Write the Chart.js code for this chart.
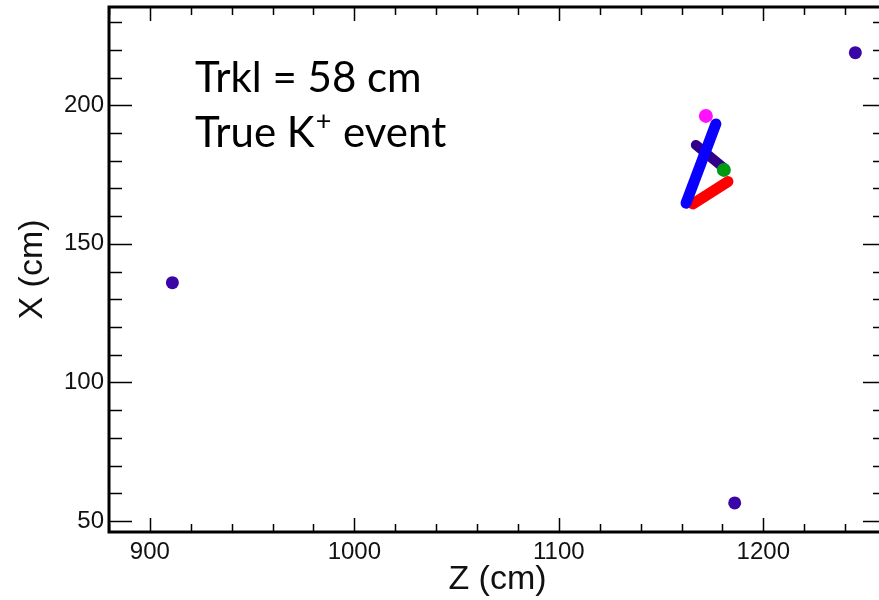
<!DOCTYPE html>
<html>
<head>
<meta charset="utf-8">
<script src="https://cdn.jsdelivr.net/npm/chart.js@4"></script>
<style>
  html, body { margin: 0; padding: 0; background: #fff; overflow: hidden; }
  #wrap { width: 900px; height: 600px; }
</style>
</head>
<body>
<div id="wrap"><canvas id="evt" width="900" height="600"></canvas></div>
<script>
// isolated hits (Z, X in cm)
const hitZ = [911, 1186, 1245];
const hitX = [136, 56.5, 219];

// reconstructed tracks, start and end point
const blueZ = [1162.2, 1176.8];
const blueX = [164.7, 193.3];
const redZ = [1165.6, 1182.7];
const redX = [164.4, 172.5];
const purpleZ = [1167.0, 1180.2];
const purpleX = [185.7, 177.7];

// vertex blobs
const greenZ = [1180.7];
const greenX = [176.7];
const pinkZ = [1171.9];
const pinkX = [196.2];

// axis ranges, tick spacing and labelled ticks
const zRange = [880, 1260];
const xRange = [46, 235.5];
const zStep = 20;
const xStep = 10;
const zLabels = [900, 1000, 1100, 1200];
const xLabels = [50, 100, 150, 200];

const noteLine1 = 'Trkl = 58 cm';
const noteLine2 = ['True K', '+', ' event'];

function pts(zs, xs) {
    return zs.map((z, i) => ({x: z, y: xs[i]}));
}

// every multiple of step inside [lo, hi]
function stepTicks(lo, hi, step) {
    const out = [];
    for (let v = Math.ceil(lo / step) * step; v <= hi; v += step) out.push({value: v});
    return out;
}

// ROOT style box: frame plus inward ticks on all four sides
const frameTicks = {
    id: 'frameTicks',
    afterDraw(chart) {
        const {ctx, chartArea: a, scales: {x, y}} = chart;
        ctx.save();
        ctx.strokeStyle = '#000';
        ctx.lineWidth = 1.5;
        ctx.beginPath();
        x.ticks.forEach(t => {
            const px = Math.round(x.getPixelForValue(t.value)) + 0.5;
            const len = t.value % 100 === 0 ? 14 : 8;
            ctx.moveTo(px, a.bottom); ctx.lineTo(px, a.bottom - len);
            ctx.moveTo(px, a.top); ctx.lineTo(px, a.top + len);
        });
        y.ticks.forEach(t => {
            const py = Math.round(y.getPixelForValue(t.value)) + 0.5;
            const len = t.value % 50 === 0 ? 23 : 13;
            ctx.moveTo(a.left, py); ctx.lineTo(a.left + len, py);
            ctx.moveTo(a.right, py); ctx.lineTo(a.right - len, py);
        });
        ctx.stroke();
        ctx.lineWidth = 3;
        ctx.strokeRect(a.left, a.top, a.right - a.left, a.bottom - a.top);

        // event note
        ctx.fillStyle = '#000';
        ctx.textBaseline = 'alphabetic';
        ctx.font = '42px Lato';
        ctx.fillText(noteLine1, a.left + 86, 92);
        let cx = a.left + 86;
        ctx.fillText(noteLine2[0], cx, 147);
        cx += ctx.measureText(noteLine2[0]).width;
        ctx.font = '27px Lato';
        ctx.fillText(noteLine2[1], cx + 1, 130);
        cx += ctx.measureText(noteLine2[1]).width + 2;
        ctx.font = '42px Lato';
        ctx.fillText(noteLine2[2], cx, 147);
        ctx.restore();
    }
};

const hitColor = '#3b06a6';

new Chart(document.getElementById('evt').getContext('2d'), {
    type: 'scatter',
    data: {
        datasets: [
            {
                label: 'blue track',
                data: pts(blueZ, blueX),
                showLine: true,
                borderColor: '#0a00ff',
                borderWidth: 11,
                borderCapStyle: 'round',
                pointRadius: 0
            },
            {
                label: 'green vertex',
                data: pts(greenZ, greenX),
                backgroundColor: '#009a10',
                borderWidth: 0,
                pointRadius: 7
            },
            {
                label: 'pink vertex',
                data: pts(pinkZ, pinkX),
                backgroundColor: '#ff10ff',
                borderWidth: 0,
                pointRadius: 7
            },
            {
                label: 'red track',
                data: pts(redZ, redX),
                showLine: true,
                borderColor: '#ff0000',
                borderWidth: 11,
                borderCapStyle: 'round',
                pointRadius: 0
            },
            {
                label: 'purple track',
                data: pts(purpleZ, purpleX),
                showLine: true,
                borderColor: '#30008a',
                borderWidth: 10,
                borderCapStyle: 'round',
                pointRadius: 0
            },
            {
                label: 'hits',
                data: pts(hitZ, hitX),
                backgroundColor: hitColor,
                borderWidth: 0,
                pointRadius: 6.5
            }
        ]
    },
    options: {
        responsive: false,
        animation: false,
        layout: {padding: {left: 0, top: 7, right: 14, bottom: 0}},
        plugins: {
            legend: {display: false},
            tooltip: {enabled: false}
        },
        scales: {
            x: {
                type: 'linear',
                min: zRange[0],
                max: zRange[1],
                afterBuildTicks: s => { s.ticks = stepTicks(zRange[0], zRange[1], zStep); },
                afterFit: s => { s.height = 68; s.paddingLeft = 0; s.paddingRight = 0; },
                grid: {display: false, drawTicks: false},
                border: {display: false},
                ticks: {
                    autoSkip: false,
                    maxRotation: 0,
                    padding: 6,
                    color: '#111',
                    font: {family: 'Liberation Sans', size: 24},
                    callback: v => zLabels.includes(v) ? String(v) : ''
                },
                title: {
                    display: true,
                    text: 'Z (cm)',
                    color: '#111',
                    font: {family: 'Liberation Sans', size: 34},
                    padding: {top: 0, bottom: 0}
                }
            },
            y: {
                type: 'linear',
                min: xRange[0],
                max: xRange[1],
                afterBuildTicks: s => { s.ticks = stepTicks(xRange[0], xRange[1], xStep); },
                afterFit: s => { s.width = 109; s.paddingTop = 0; s.paddingBottom = 0; },
                grid: {display: false, drawTicks: false},
                border: {display: false},
                ticks: {
                    autoSkip: false,
                    padding: 5,
                    color: '#111',
                    font: {family: 'Liberation Sans', size: 24},
                    callback: v => xLabels.includes(v) ? String(v) : ''
                },
                title: {
                    display: true,
                    text: 'X (cm)',
                    color: '#111',
                    font: {family: 'Liberation Sans', size: 34},
                    padding: {top: 12, bottom: 0}
                }
            }
        }
    },
    plugins: [frameTicks]
});
</script>
</body>
</html>
